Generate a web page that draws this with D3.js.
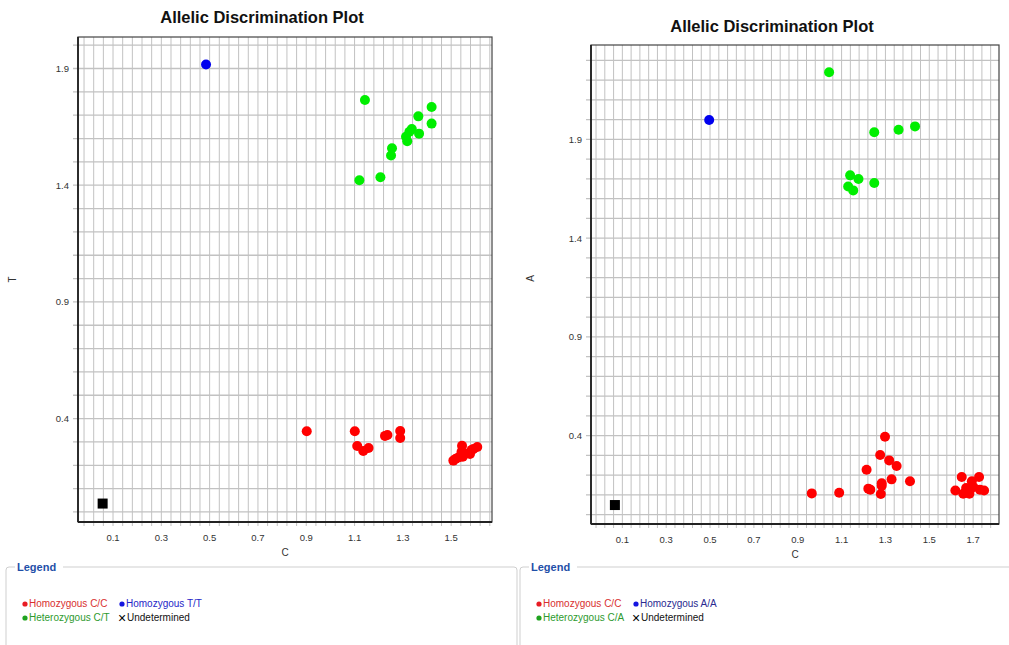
<!DOCTYPE html>
<html><head><meta charset="utf-8">
<script src="https://cdn.jsdelivr.net/npm/d3@7"></script>
<style>
body{margin:0;background:#fff;font-family:"Liberation Sans",Arial,sans-serif;}
svg{display:block}
</style></head>
<body><svg id="c" width="1009" height="645"></svg>
<script>
// ---------- data: left plot (C vs T) ----------
const leftTitle = "Allelic Discrimination Plot";
const leftXLabel = "C", leftYLabel = "T";
const leftXTicks = [0.1,0.3,0.5,0.7,0.9,1.1,1.3,1.5];
const leftYTicks = [0.4,0.9,1.4,1.9];
const leftCC = [[0.902,0.346],[1.101,0.346],[1.111,0.283],[1.136,0.261],[1.158,0.274],[1.226,0.326],[1.236,0.330],[1.289,0.347],[1.289,0.317],
  [1.509,0.220],[1.519,0.228],[1.531,0.234],[1.545,0.284],[1.548,0.237],[1.543,0.258],[1.560,0.251],[1.578,0.248],[1.585,0.266],[1.608,0.278],[1.592,0.270]];
const leftTT = [[0.485,1.917]];
const leftCT = [[1.143,1.765],[1.419,1.735],[1.364,1.695],[1.419,1.664],[1.337,1.641],[1.327,1.629],[1.367,1.621],[1.313,1.608],[1.318,1.588],[1.255,1.558],[1.251,1.527],[1.207,1.434],[1.120,1.421]];
const leftUnd = [[0.057,0.036]];
const leftLegend = ["Homozygous C/C","Homozygous T/T","Heterozygous C/T","Undetermined"];

// ---------- data: right plot (C vs A) ----------
const rightTitle = "Allelic Discrimination Plot";
const rightXLabel = "C", rightYLabel = "A";
const rightXTicks = [0.1,0.3,0.5,0.7,0.9,1.1,1.3,1.5,1.7];
const rightYTicks = [0.4,0.9,1.4,1.9];
const rightCC = [[0.964,0.108],[1.089,0.111],[1.214,0.228],[1.222,0.132],[1.231,0.127],[1.276,0.302],[1.283,0.159],[1.283,0.147],[1.279,0.105],[1.298,0.395],[1.317,0.275],[1.328,0.179],[1.351,0.247],[1.412,0.169],
  [1.619,0.123],[1.648,0.191],[1.655,0.106],[1.668,0.135],[1.686,0.127],[1.694,0.169],[1.701,0.140],[1.727,0.191],[1.731,0.127],[1.750,0.123],[1.683,0.106]];
const rightAA = [[0.496,1.998]];
const rightCA = [[1.043,2.240],[1.249,1.936],[1.360,1.949],[1.435,1.966],[1.139,1.718],[1.177,1.700],[1.249,1.679],[1.130,1.662],[1.153,1.642]];
const rightUnd = [[0.066,0.049]];
const rightLegend = ["Homozygous C/C","Homozygous A/A","Heterozygous C/A","Undetermined"];

const svg = d3.select("#c");

function plot(cfg){
  const g = svg.append("g");
  const x = d3.scaleLinear().domain(cfg.xd).range([cfg.l, cfg.r]);
  const y = d3.scaleLinear().domain(cfg.yd).range([cfg.b, cfg.t]);
  const vx = []; for(let v=0.1-0.04*Math.ceil((0.1-cfg.xd[0])/0.04); v<=cfg.xd[1]+1e-9; v+=0.04) vx.push(+v.toFixed(3));
  const hy = []; for(let v=0; v<=cfg.yd[1]+1e-9; v+=0.1) hy.push(+v.toFixed(2));
  g.append("g").selectAll("line").data(vx.filter(v=>v>cfg.xd[0])).join("line")
    .attr("x1",d=>x(d)).attr("x2",d=>x(d)).attr("y1",cfg.t).attr("y2",cfg.b+4)
    .attr("stroke","#c2c2c2").attr("stroke-width",1);
  g.append("g").selectAll("line").data(hy).join("line")
    .attr("x1",cfg.l-5).attr("x2",cfg.r).attr("y1",d=>y(d)).attr("y2",d=>y(d))
    .attr("stroke","#c2c2c2").attr("stroke-width",1.3);
  g.append("rect").attr("x",cfg.l).attr("y",cfg.t).attr("width",cfg.r-cfg.l).attr("height",cfg.b-cfg.t)
    .attr("fill","none").attr("stroke","#444").attr("stroke-width",1.2);
  g.append("line").attr("x1",cfg.l).attr("x2",cfg.l).attr("y1",cfg.t).attr("y2",cfg.b).attr("stroke","#222").attr("stroke-width",1.8);
  g.append("line").attr("x1",cfg.l).attr("x2",cfg.r).attr("y1",cfg.b).attr("y2",cfg.b).attr("stroke","#222").attr("stroke-width",1.8);
  g.append("g").selectAll("text").data(cfg.xt).join("text")
    .attr("x",d=>x(d)).attr("y",cfg.b+19).attr("text-anchor","middle")
    .attr("font-size",9.5).attr("fill","#333").text(d=>d.toFixed(1));
  g.append("g").selectAll("text").data(cfg.yt).join("text")
    .attr("x",cfg.l-9).attr("y",d=>y(d)+3.5).attr("text-anchor","end")
    .attr("font-size",9.5).attr("fill","#333").text(d=>d.toFixed(1));
  g.append("text").attr("x",cfg.tx).attr("y",cfg.ty).attr("text-anchor","middle")
    .attr("font-size",16.5).attr("font-weight","bold").attr("fill","#111").text(cfg.title);
  g.append("text").attr("x",(cfg.l+cfg.r)/2).attr("y",cfg.b+34).attr("text-anchor","middle")
    .attr("font-size",10).attr("fill","#333").text(cfg.xl);
  g.append("text").attr("transform",`translate(${cfg.ylx},${(cfg.t+cfg.b)/2+ (cfg.yly||0)}) rotate(-90)`).attr("text-anchor","middle")
    .attr("font-size",10).attr("fill","#333").text(cfg.yl);
  const series = [[cfg.s1,"#ff0000"],[cfg.s3,"#00ee00"],[cfg.s2,"#0000ee"]];
  series.forEach(([data,col])=>{
    g.append("g").selectAll("circle").data(data).join("circle")
      .attr("cx",d=>x(d[0])).attr("cy",d=>y(d[1])).attr("r",5).attr("fill",col);
  });
  g.append("g").selectAll("rect").data(cfg.s4).join("rect")
    .attr("x",d=>x(d[0])-5).attr("y",d=>y(d[1])-5).attr("width",10).attr("height",10).attr("fill","#000");
}

plot({l:78,r:492,t:37,b:522,xd:[-0.045,1.669],yd:[-0.043,2.035],xt:leftXTicks,yt:leftYTicks,
  title:leftTitle,tx:262,ty:23,xl:leftXLabel,yl:leftYLabel,ylx:16,s1:leftCC,s2:leftTT,s3:leftCT,s4:leftUnd});
plot({l:591,r:999,t:45,b:524,xd:[-0.043,1.818],yd:[-0.047,2.378],xt:rightXTicks,yt:rightYTicks,
  title:rightTitle,tx:772,ty:32,xl:rightXLabel,yl:rightYLabel,ylx:534,yly:-6,s1:rightCC,s2:rightAA,s3:rightCA,s4:rightUnd});

function legend(x0, w, labels, blueCol){
  const g = svg.append("g");
  g.append("path").attr("d",`M${x0+6},567 H${x0} Q${x0-3},567 ${x0-3},570 V650 M${x0+54},567 H${x0+w-3} Q${x0+w},567 ${x0+w},570 V650`)
    .attr("fill","none").attr("stroke","#cfcfcf").attr("stroke-width",1);
  g.append("text").attr("x",x0+8).attr("y",571).attr("font-size",11).attr("font-weight","bold").attr("fill","#1f4fa8").text("Legend");
  const items = [
    {x:x0+16,y:603,c:"#e81c24",t:labels[0],tc:"#d93030",dot:true},
    {x:x0+113,y:603,c:"#1414e0",t:labels[1],tc:blueCol,dot:true},
    {x:x0+16,y:617,c:"#1fa31f",t:labels[2],tc:"#2e9a2e",dot:true},
    {x:x0+109,y:617,c:"#000",t:labels[3],tc:"#111",dot:false}];
  items.forEach(it=>{
    if(it.dot){
      g.append("circle").attr("cx",it.x).attr("cy",it.y+1).attr("r",2.6).attr("fill",it.c);
      g.append("text").attr("x",it.x+4).attr("y",it.y+4).attr("font-size",10).attr("fill",it.tc).text(it.t);
    } else {
      g.append("text").attr("x",it.x).attr("y",it.y+6).attr("font-size",14).attr("fill","#000").text("\u00d7");
      g.append("text").attr("x",it.x+9).attr("y",it.y+4).attr("font-size",10).attr("fill",it.tc).text(it.t);
    }
  });
}
legend(9, 508, leftLegend, "#2626c8");
legend(523, 500, rightLegend, "#2a2a90");
</script></body></html>
